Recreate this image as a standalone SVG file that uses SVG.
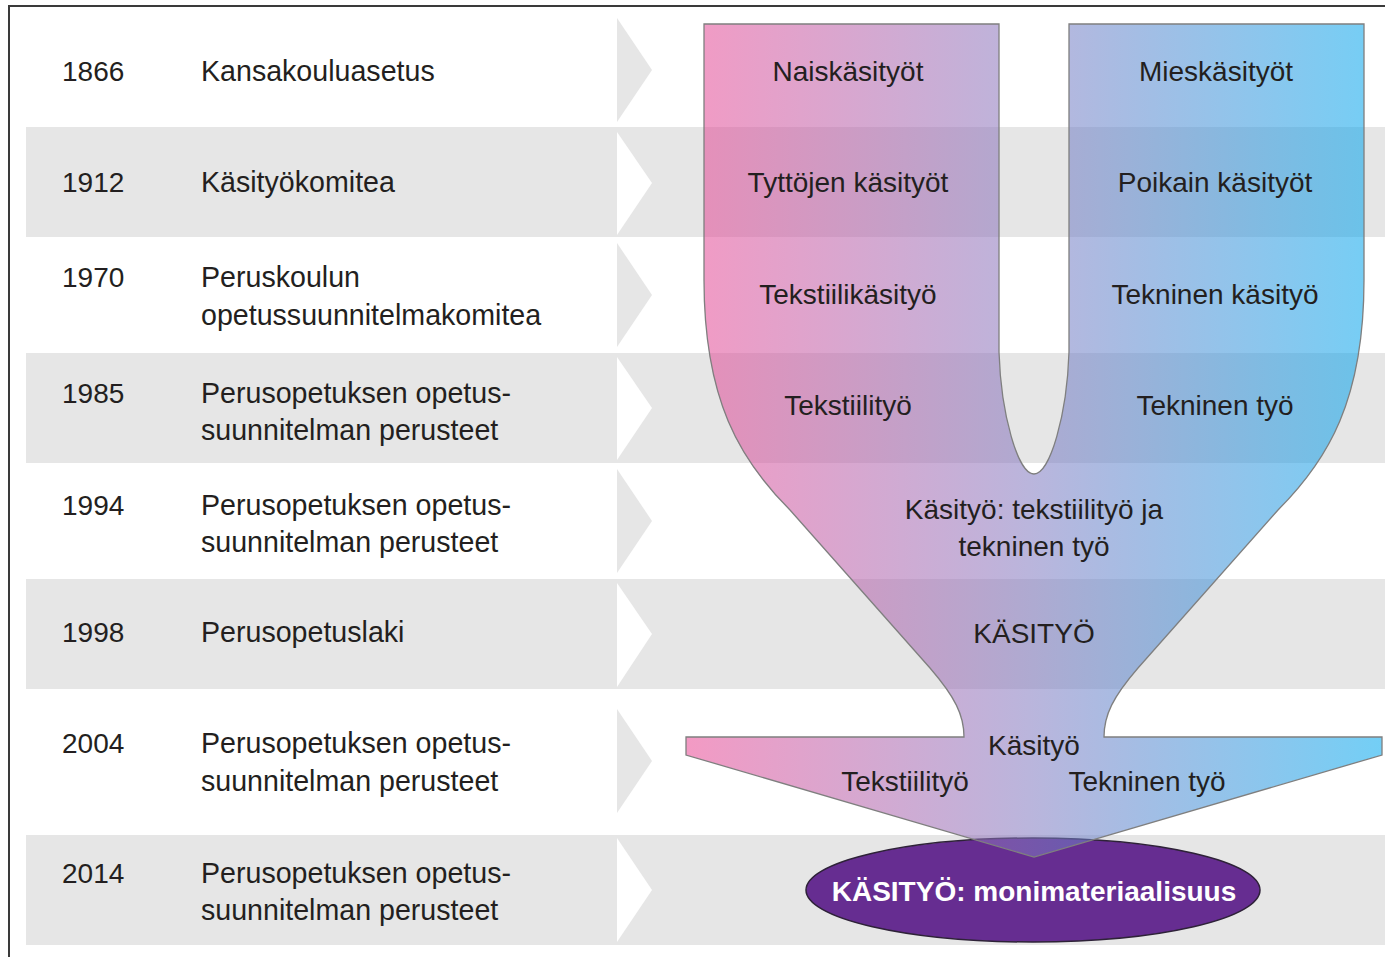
<svg xmlns="http://www.w3.org/2000/svg" width="1385" height="957" viewBox="0 0 1385 957">
<defs>
<style>
.t{font-family:"Liberation Sans",Arial,sans-serif;font-size:28px;fill:#231f20}
.d{font-size:28.6px}
.c{text-anchor:middle}
.band{fill:#e6e6e6}
.chg{fill:#e6e6e6}
.chw{fill:#ffffff}
.w{font-family:"Liberation Sans",Arial,sans-serif;font-size:28px;font-weight:bold;fill:#ffffff;text-anchor:middle}
</style>
<linearGradient id="g" gradientUnits="userSpaceOnUse" x1="686" y1="0" x2="1382" y2="0">
<stop offset="0" stop-color="#e94793"/>
<stop offset="0.5" stop-color="#8079c0"/>
<stop offset="1" stop-color="#00a7ee"/>
</linearGradient>
</defs>
<rect x="0" y="0" width="1385" height="957" fill="#ffffff"/>
<g id="bands">
<rect class="band" x="26" y="127" width="1359" height="110"/>
<rect class="band" x="26" y="353" width="1359" height="110"/>
<rect class="band" x="26" y="579" width="1359" height="110"/>
<rect class="band" x="26" y="835" width="1359" height="110"/>
</g>
<g id="frame" fill="none" stroke="#3a3a3a" stroke-width="2">
<path d="M9,957 L9,6 L1385,6"/>
</g>
<g id="chevrons">
<polygon class="chg" points="617,18 652,70 617,122"/>
<polygon class="chw" points="617,132 652,183 617,235"/>
<polygon class="chg" points="617,243 652,295 617,347"/>
<polygon class="chw" points="617,357 652,408 617,460"/>
<polygon class="chg" points="617,469 652,521 617,573"/>
<polygon class="chw" points="617,583 652,634 617,687"/>
<polygon class="chg" points="617,709 652,761 617,813"/>
<polygon class="chw" points="617,838 652,890 617,942"/>
</g>
<g id="row-1866"><text class="t" x="62" y="81">1866</text><text class="t d" x="201" y="81">Kansakouluasetus</text></g>
<g id="row-1912"><text class="t" x="62" y="192">1912</text><text class="t d" x="201" y="192">Käsityökomitea</text></g>
<g id="row-1970"><text class="t" x="62" y="287">1970</text><text class="t d" x="201" y="287">Peruskoulun</text><text class="t d" x="201" y="325">opetussuunnitelmakomitea</text></g>
<g id="row-1985"><text class="t" x="62" y="403">1985</text><text class="t d" x="201" y="403">Perusopetuksen opetus-</text><text class="t d" x="201" y="440">suunnitelman perusteet</text></g>
<g id="row-1994"><text class="t" x="62" y="515">1994</text><text class="t d" x="201" y="515">Perusopetuksen opetus-</text><text class="t d" x="201" y="552">suunnitelman perusteet</text></g>
<g id="row-1998"><text class="t" x="62" y="642">1998</text><text class="t d" x="201" y="642">Perusopetuslaki</text></g>
<g id="row-2004"><text class="t" x="62" y="753">2004</text><text class="t d" x="201" y="753">Perusopetuksen opetus-</text><text class="t d" x="201" y="791">suunnitelman perusteet</text></g>
<g id="row-2014"><text class="t" x="62" y="883">2014</text><text class="t d" x="201" y="883">Perusopetuksen opetus-</text><text class="t d" x="201" y="920">suunnitelman perusteet</text></g>
<g id="ellipse-node">
<ellipse cx="1033" cy="890" rx="227" ry="52" fill="#662d91" stroke="#2e2238" stroke-width="1.5"/>
</g>
<g id="funnel">
<path d="M704,24 L999,24 L999,352 C1001,415 1018,474 1034,474 C1050,474 1067,415 1069,352 L1069,24 L1364,24 L1364,280 C1364,400 1328,460 1278,510 L1138,668 C1113,697 1104,715 1104,737 L1382,737 L1382,755 L1034,857 L686,755 L686,737 L964,737 C964,715 955,697 930,668 L790,510 C740,460 704,400 704,280 Z" fill="url(#g)" fill-opacity="0.55" stroke="#7f7f7f" stroke-width="1.3"/>
</g>
<g id="funnel-labels">
<text class="t c" x="848" y="81">Naiskäsityöt</text>
<text class="t c" x="1216" y="81">Mieskäsityöt</text>
<text class="t c" x="848" y="192">Tyttöjen käsityöt</text>
<text class="t c" x="1215" y="192">Poikain käsityöt</text>
<text class="t c" x="848" y="304">Tekstiilikäsityö</text>
<text class="t c" x="1215" y="304">Tekninen käsityö</text>
<text class="t c" x="848" y="415">Tekstiilityö</text>
<text class="t c" x="1215" y="415">Tekninen työ</text>
<text class="t c" x="1034" y="519">Käsityö: tekstiilityö ja</text>
<text class="t c" x="1034" y="556">tekninen työ</text>
<text class="t c" x="1034" y="643">KÄSITYÖ</text>
<text class="t c" x="1034" y="755">Käsityö</text>
<text class="t c" x="905" y="791">Tekstiilityö</text>
<text class="t c" x="1147" y="791">Tekninen työ</text>
</g>
<g id="ellipse-label">
<text class="w" x="1034" y="901">KÄSITYÖ: monimateriaalisuus</text>
</g>
</svg>
